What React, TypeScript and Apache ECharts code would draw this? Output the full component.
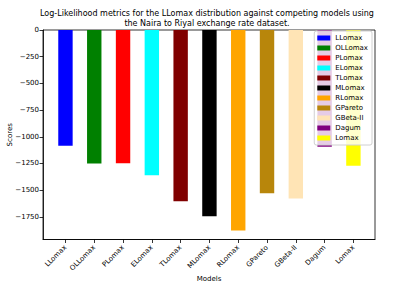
import React, { useEffect, useRef } from "react";
import * as echarts from "echarts";

const models = ["LLomax", "OLLomax", "PLomax", "ELomax", "TLomax", "MLomax", "RLomax", "GPareto", "GBeta-II", "Dagum", "Lomax"];
const scores = [-1085, -1250, -1248, -1360, -1603, -1745, -1877, -1530, -1578, -1094, -1272];
const colors = ["#0000ff", "#008000", "#ff0000", "#00ffff", "#800000", "#000000", "#ffa500", "#b8860b", "#ffe4b5", "#800080", "#ffff00"];
const yTicks = [0, -250, -500, -750, -1000, -1250, -1500, -1750];

const FONT = "DejaVu Sans";

export default function App() {
  const ref = useRef<HTMLDivElement>(null);
  useEffect(() => {
    if (!ref.current) return;
    const chart = echarts.init(ref.current, null, { renderer: "svg" });
    const xIdx = models.map((_, i) => i);
    chart.setOption({
      animation: false,
      textStyle: { fontFamily: FONT },
      title: {
        text: "Log-Likelihood metrics for the LLomax distribution against competing models using\nthe Naira to Riyal exchange rate dataset.",
        left: 207,
        textAlign: "center",
        top: 8,
        padding: 0,
        textStyle: { fontFamily: FONT, fontSize: 8, fontWeight: "normal", color: "#000", lineHeight: 10 },
      },
      legend: {
        orient: "vertical",
        right: 36,
        top: 31,
        itemWidth: 13,
        itemHeight: 5,
        itemGap: 2,
        padding: [3, 4, 3, 3],
        backgroundColor: "rgba(255,255,255,0.8)",
        borderColor: "#d0d0d0",
        borderWidth: 1,
        borderRadius: 2,
        textStyle: { fontFamily: FONT, fontSize: 7, color: "#000", lineHeight: 8 },
        data: models.map((m) => ({ name: m, icon: "rect" })),
      },
      grid: {
        left: 43, right: 33, top: 30, bottom: 47.5,
        outerBoundsMode: "none",
        containLabel: false,
        show: true, borderColor: "#000", borderWidth: 0.8,
      },
      xAxis: {
        type: "value",
        min: -0.78,
        max: 10.75,
        name: "Models",
        nameLocation: "middle",
        nameGap: 36,
        nameMoveOverlap: false,
        nameTextStyle: { fontFamily: FONT, fontSize: 7, color: "#000" },
        axisLine: { show: true, onZero: false, lineStyle: { color: "#000", width: 0.8 } },
        axisTick: { show: true, length: 3.5, lineStyle: { color: "#000", width: 0.8 }, customValues: xIdx },
        axisLabel: {
          customValues: xIdx,
          rotate: 45,
          hideOverlap: false,
          fontFamily: FONT,
          fontSize: 7,
          color: "#000",
          margin: 7,
          formatter: (v: number) => models[Math.round(v)] ?? "",
        },
        splitLine: { show: false },
      },
      yAxis: {
        type: "value",
        min: -1962,
        max: 0,
        name: "Scores",
        nameLocation: "middle",
        nameGap: 30,
        nameMoveOverlap: false,
        nameTextStyle: { fontFamily: FONT, fontSize: 7, color: "#000" },
        axisLine: { show: true, onZero: false, lineStyle: { color: "#000", width: 0.8 } },
        axisTick: { show: true, length: 3.5, lineStyle: { color: "#000", width: 0.8 }, customValues: yTicks },
        axisLabel: {
          customValues: yTicks,
          fontFamily: FONT,
          fontSize: 7,
          color: "#000",
          margin: 4,
          formatter: (v: number) => String(v).replace("-", "\u2212"),
        },
        splitLine: { show: false },
      },
      series: models.map((m, i) => ({
        name: m,
        type: "bar",
        stack: "all",
        barWidth: 14.4,
        itemStyle: { color: colors[i] },
        data: [[i, scores[i]]],
      })),
    });
    return () => chart.dispose();
  }, []);
  return <div ref={ref} style={{ position: "absolute", left: 0, top: 0, width: 408, height: 287 }} />;
}
